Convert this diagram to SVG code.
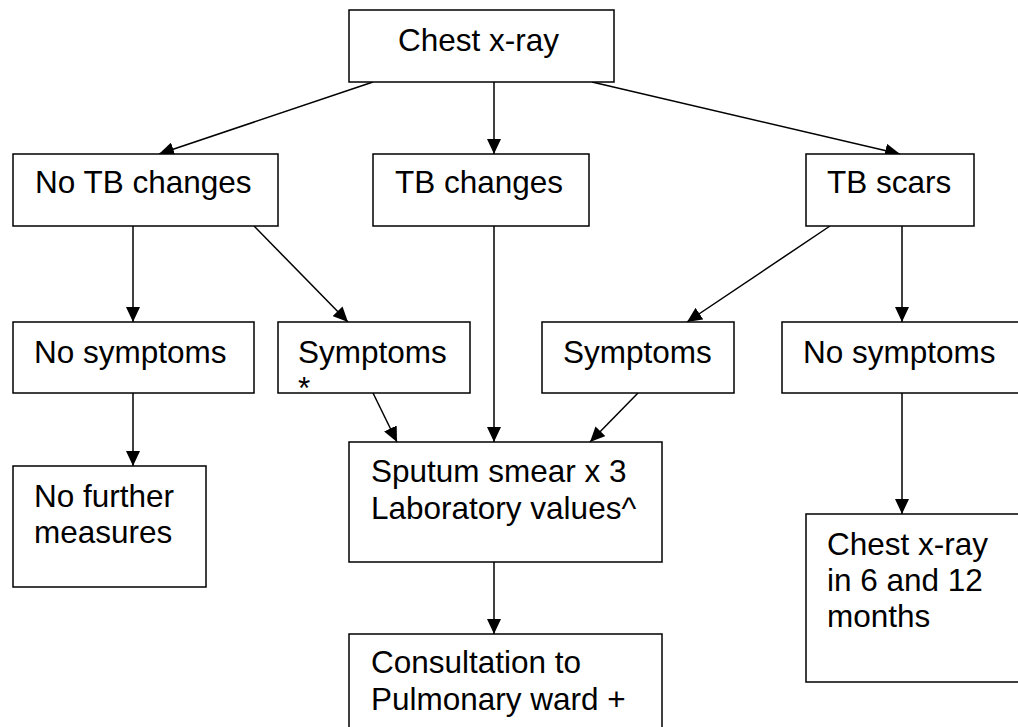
<svg xmlns="http://www.w3.org/2000/svg" width="1018" height="727" viewBox="0 0 1018 727">
<style>
rect{fill:#fff;stroke:#000;stroke-width:1.5}
text{font-family:"Liberation Sans",Arial,sans-serif;font-size:31.5px;fill:#000}
.c line{stroke:#000;stroke-width:1.5;marker-end:url(#ah)}
</style>
<defs>
<marker id="ah" markerUnits="userSpaceOnUse" markerWidth="15" markerHeight="14" refX="15" refY="7" orient="auto">
<path d="M0,0 L15,7 L0,14 z" fill="#000"/>
</marker>
</defs>
<rect x="0" y="0" width="1018" height="727" style="stroke:none"/>
<g id="connectors" class="c">
<line x1="373" y1="82" x2="159" y2="154"/>
<line x1="494" y1="82" x2="494" y2="154"/>
<line x1="592" y1="82" x2="900" y2="154"/>
<line x1="133" y1="226" x2="133" y2="322"/>
<line x1="254" y1="226" x2="348" y2="322"/>
<line x1="494" y1="226" x2="494" y2="442"/>
<line x1="830" y1="226" x2="687" y2="322"/>
<line x1="902" y1="226" x2="902" y2="322"/>
<line x1="133" y1="393" x2="133" y2="466"/>
<line x1="373" y1="393" x2="397" y2="442"/>
<line x1="638" y1="393" x2="590" y2="442"/>
<line x1="494" y1="562" x2="494" y2="634"/>
<line x1="902" y1="393" x2="902" y2="514"/>
</g>
<g id="chest"><rect x="349" y="10" width="265" height="72"/><text x="398" y="51">Chest x-ray</text></g>
<g id="notb"><rect x="13" y="154" width="265" height="72"/><text x="35" y="193">No TB changes</text></g>
<g id="tbchanges"><rect x="373" y="154" width="216" height="72"/><text x="395" y="193">TB changes</text></g>
<g id="tbscars"><rect x="806" y="154" width="168" height="72"/><text x="827" y="193">TB scars</text></g>
<g id="nosym-l"><rect x="13" y="322" width="241" height="71"/><text x="34" y="363">No symptoms</text></g>
<g id="sym-l"><rect x="278" y="322" width="192" height="71"/><text x="298" y="363">Symptoms</text><text x="298" y="399">*</text></g>
<g id="sym-r"><rect x="542" y="322" width="192" height="71"/><text x="563" y="363">Symptoms</text></g>
<g id="nosym-r"><rect x="782" y="322" width="250" height="71"/><text x="803" y="363">No symptoms</text></g>
<g id="nofurther"><rect x="13" y="466" width="193" height="121"/><text x="34" y="507">No further</text><text x="34" y="543">measures</text></g>
<g id="sputum"><rect x="349" y="442" width="313" height="120"/><text x="371" y="482">Sputum smear x 3</text><text x="371" y="519">Laboratory values^</text></g>
<g id="consult"><rect x="349" y="634" width="313" height="110"/><text x="371" y="673">Consultation to</text><text x="371" y="710">Pulmonary ward +</text></g>
<g id="chest612"><rect x="806" y="514" width="230" height="168"/><text x="827" y="555">Chest x-ray</text><text x="827" y="591">in 6 and 12</text><text x="827" y="627">months</text></g>
</svg>
